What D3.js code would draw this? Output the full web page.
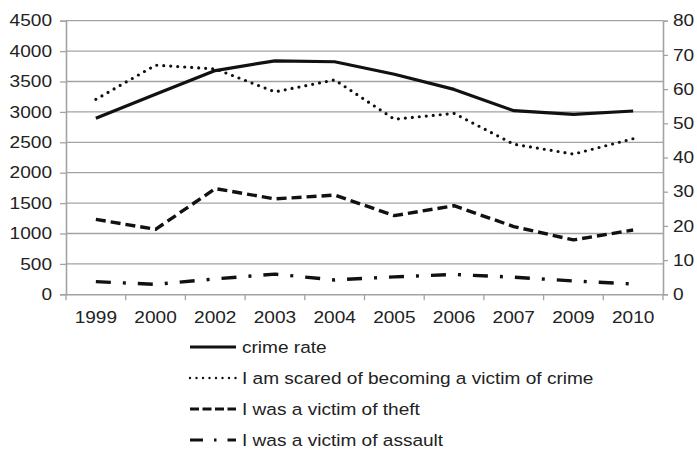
<!DOCTYPE html>
<html>
<head>
<meta charset="utf-8">
<script src="https://cdn.jsdelivr.net/npm/d3@7"></script>
<style>
  body { margin: 0; background: #fff; }
  svg { font-family: "Liberation Sans", Arial, sans-serif; }
</style>
</head>
<body>
<script>
// data
const years = ["1999", "2000", "2002", "2003", "2004", "2005", "2006", "2007", "2009", "2010"];
const crimeRate = [2895, 3290, 3680, 3840, 3825, 3620, 3370, 3020, 2960, 3015];
const scared = [57.0, 67.0, 65.9, 59.2, 62.7, 51.2, 52.9, 43.9, 41.0, 45.5];
const theft = [21.9, 19.0, 30.9, 27.9, 29.0, 23.0, 25.9, 19.8, 15.9, 18.8];
const assault = [3.7, 2.9, 4.5, 5.9, 4.2, 5.1, 5.8, 5.0, 3.9, 3.0];
const leftTicks = [0, 500, 1000, 1500, 2000, 2500, 3000, 3500, 4000, 4500];
const rightTicks = [0, 10, 20, 30, 40, 50, 60, 70, 80];
const seriesNames = ["crime rate", "I am scared of becoming a victim of crime", "I was a victim of theft", "I was a victim of assault"];

const W = 697, H = 450;
const svg = d3.select("body").append("svg").attr("width", W).attr("height", H);

const x0 = 66, x1 = 663, yTop = 20.7, yBot = 294.3;
const x = d3.scaleBand().domain(years).range([x0, x1]);
const yL = d3.scaleLinear().domain([0, 4500]).range([yBot, yTop]);
const yR = d3.scaleLinear().domain([0, 80]).range([yBot, yTop]);

const grey = "#a3a3a3";
const fs = "16.3px";

// gridlines
svg.append("g").selectAll("line").data(leftTicks.slice(1)).enter().append("line")
  .attr("x1", x0).attr("x2", x1)
  .attr("y1", d => yL(d)).attr("y2", d => yL(d))
  .attr("stroke", grey).attr("stroke-width", 1.3);

// left axis
const axL = svg.append("g").attr("transform", `translate(${x0},0)`)
  .call(d3.axisLeft(yL).tickValues(leftTicks).tickSize(6).tickPadding(8).tickFormat(d3.format("d")));
// right axis
const axR = svg.append("g").attr("transform", `translate(${x1},0)`)
  .call(d3.axisRight(yR).tickValues(rightTicks).tickSize(5).tickPadding(5));
// bottom axis
const axB = svg.append("g").attr("transform", `translate(0,${yBot})`)
  .call(d3.axisBottom(x).tickSize(0).tickPadding(17));
// category boundary ticks
svg.append("g").selectAll("line").data(years.concat(["end"])).enter().append("line")
  .attr("x1", (d, i) => i < years.length ? x(d) : x1)
  .attr("x2", (d, i) => i < years.length ? x(d) : x1)
  .attr("y1", yBot).attr("y2", yBot + 6)
  .attr("stroke", grey).attr("stroke-width", 1.3);

[axL, axR, axB].forEach(a => {
  a.selectAll(".domain").attr("stroke", grey).attr("stroke-width", 1.6);
  a.selectAll(".tick line").attr("stroke", grey).attr("stroke-width", 1.3);
  a.selectAll("text").attr("fill", "#222").style("font-size", fs).style("font-family", "'Liberation Sans', Arial, sans-serif");
});

const styles = [
  { dash: null, cap: "butt", w: 3.2 },
  { dash: "0,7", cap: "round", w: 3.2 },
  { dash: "10,5", cap: "butt", w: 3.4 },
  { dash: "15,12,3,12", cap: "butt", w: 3.4 }
];

const series = [
  { vals: crimeRate, y: yL },
  { vals: scared, y: yR },
  { vals: theft, y: yR },
  { vals: assault, y: yR }
];

series.forEach((s, k) => {
  const line = d3.line()
    .x((d, i) => x(years[i]) + x.bandwidth() / 2)
    .y(d => s.y(d));
  svg.append("path").datum(s.vals)
    .attr("d", line)
    .attr("fill", "none")
    .attr("stroke", "#111")
    .attr("stroke-width", styles[k].w)
    .attr("stroke-linecap", styles[k].cap)
    .attr("stroke-linejoin", "round")
    .attr("stroke-dasharray", styles[k].dash);
});

// legend
const lg = svg.append("g");
const legStyles = [
  { dash: null, cap: "butt" },
  { dash: "0,6.5", cap: "round" },
  { dash: "9,3.5", cap: "butt" },
  { dash: "13,11,2.5,11", cap: "butt" }
];
seriesNames.forEach((name, k) => {
  const yy = 347 + k * 31;
  lg.append("line")
    .attr("x1", 190).attr("x2", 236).attr("y1", yy).attr("y2", yy)
    .attr("stroke", "#111").attr("stroke-width", k === 1 ? 2.4 : 3)
    .attr("stroke-linecap", legStyles[k].cap)
    .attr("stroke-dasharray", legStyles[k].dash);
  lg.append("text")
    .attr("x", 242).attr("y", yy).attr("dy", "0.35em")
    .attr("fill", "#222").style("font-size", fs)
    .text(name);
});

// the reference face is wider than Liberation Sans: stretch the texts
svg.selectAll("text").each(function () {
  const len = this.getComputedTextLength();
  d3.select(this).attr("textLength", len * 1.17).attr("lengthAdjust", "spacingAndGlyphs");
});
</script>
</body>
</html>
